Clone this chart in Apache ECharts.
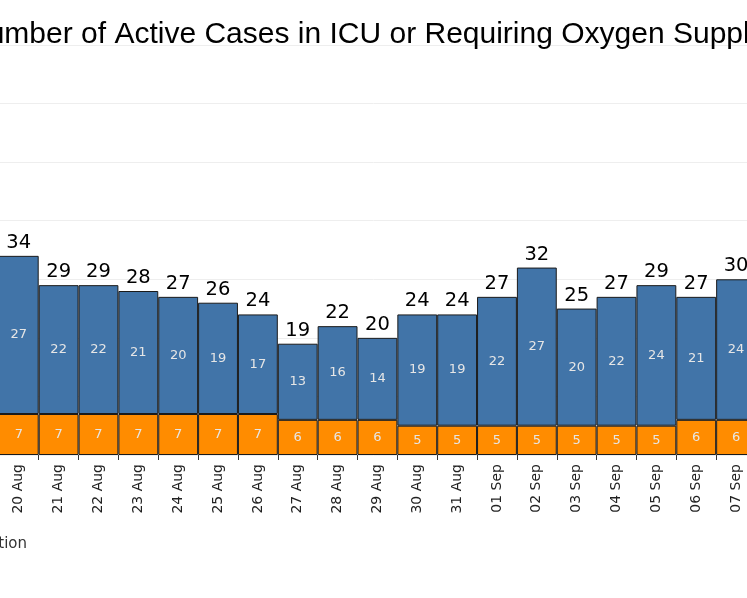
<!DOCTYPE html>
<html>
<head>
<meta charset="utf-8">
<script src="https://cdn.jsdelivr.net/npm/echarts@6/dist/echarts.min.js"></script>
<style>
  html, body { margin: 0; padding: 0; background: #fff; }
  #chart { width: 747px; height: 598px; }
</style>
</head>
<body>
<div id="chart"></div>
<script>
const dates = [
    '19 Aug', '20 Aug', '21 Aug', '22 Aug', '23 Aug', '24 Aug', '25 Aug',
    '26 Aug', '27 Aug', '28 Aug', '29 Aug', '30 Aug', '31 Aug', '01 Sep',
    '02 Sep', '03 Sep', '04 Sep', '05 Sep', '06 Sep', '07 Sep',
];
const icu = [7, 7, 7, 7, 7, 7, 7, 7, 6, 6, 6, 5, 5, 5, 5, 5, 5, 5, 6, 6];
const oxygen = [30, 27, 22, 22, 21, 20, 19, 17, 13, 16, 14, 19, 19, 22, 27, 20, 22, 24, 21, 24];
const totals = icu.map((v, i) => v + oxygen[i]);

const chart = echarts.init(document.getElementById('chart'));

const insideLabel = {
    show: true,
    position: 'inside',
    color: '#e6e6e6',
    fontSize: 13,
    fontFamily: 'DejaVu Sans',
};

chart.setOption({
    animation: false,
    title: {
        text: 'Number of Active Cases in ICU or Requiring Oxygen Supplementation',
        left: -39,
        top: 15,
        textStyle: {
            fontFamily: 'Liberation Sans',
            fontSize: 30,
            fontWeight: 'normal',
            color: '#000',
        },
    },
    legend: {
        right: 720,
        width: 900,
        top: 536,
        padding: 0,
        itemWidth: 14,
        itemHeight: 14,
        textStyle: { fontFamily: 'DejaVu Sans', fontSize: 15, color: '#333' },
        data: ['ICU', 'Requiring Oxygen Supplementation'],
    },
    grid: {
        left: -41,
        right: -9,
        top: 45,
        bottom: 143,
        containLabel: false,
        outerBoundsMode: 'none',
    },
    xAxis: {
        type: 'category',
        data: dates,
        axisLine: { show: false },
        axisTick: { show: true, length: 5, lineStyle: { color: '#333' } },
        axisLabel: {
            rotate: 90,
            margin: 9,
            fontFamily: 'DejaVu Sans',
            fontSize: 14,
            color: '#222',
        },
    },
    yAxis: {
        type: 'value',
        min: 0,
        max: 70,
        interval: 10,
        axisLabel: { show: false },
        axisLine: { show: false },
        axisTick: { show: false },
        splitLine: { lineStyle: { color: '#eeeeee' } },
    },
    series: [
        {
            name: 'ICU',
            type: 'bar',
            stack: 'cases',
            barCategoryGap: '0%',
            data: icu,
            itemStyle: { color: '#ff8c00', borderColor: '#1a1a1a', borderWidth: 1 },
            label: insideLabel,
        },
        {
            name: 'Requiring Oxygen Supplementation',
            type: 'bar',
            stack: 'cases',
            barCategoryGap: '0%',
            data: oxygen,
            itemStyle: { color: '#4174a8', borderColor: '#1a1a1a', borderWidth: 1 },
            label: insideLabel,
        },
        {
            name: 'Total',
            type: 'bar',
            stack: 'cases',
            barCategoryGap: '0%',
            data: totals.map(() => 0),
            itemStyle: { color: 'transparent' },
            label: {
                show: true,
                position: 'top',
                distance: 3,
                formatter: (p) => totals[p.dataIndex],
                color: '#000',
                fontSize: 19.5,
                fontFamily: 'DejaVu Sans',
            },
            tooltip: { show: false },
        },
    ],
});

window.addEventListener('resize', chart.resize);
</script>
</body>
</html>
